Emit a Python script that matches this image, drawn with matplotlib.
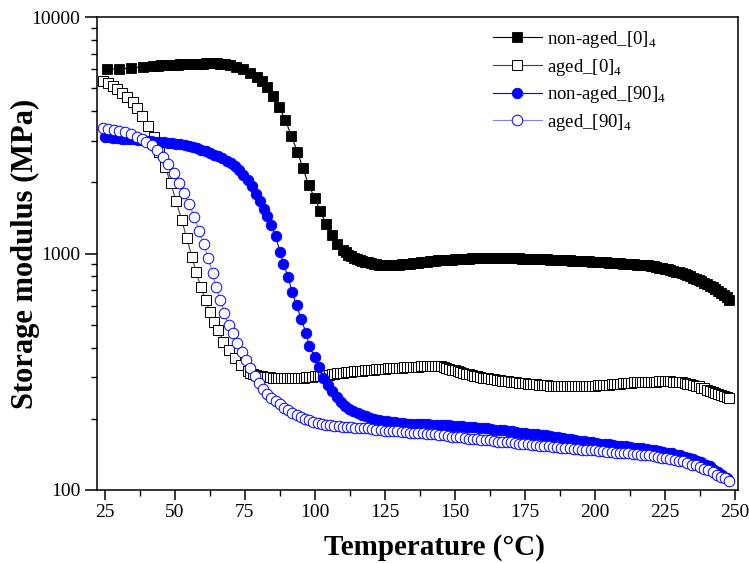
import matplotlib
matplotlib.use("Agg")
import matplotlib.pyplot as plt
from matplotlib.ticker import MultipleLocator, LogLocator, FixedLocator, NullFormatter

plt.rcParams['font.family'] = 'Liberation Serif'
plt.rcParams['mathtext.fontset'] = 'custom'
plt.rcParams['mathtext.rm'] = 'Liberation Serif'

# (temperature degC, storage modulus MPa)

# non-aged_[0]4 : filled black squares
na0_pts = [
    (25.7, 6010), (30.2, 6040), (34.4, 6090), (38.6, 6160), (42.3, 6210),
    (44, 6225), (45, 6240), (46, 6250), (47, 6260), (48, 6270), (49, 6280), (50, 6285), (51, 6290),
    (52, 6300), (53, 6310), (54, 6315), (55, 6320), (56, 6325), (57, 6330), (58, 6340), (59, 6350),
    (60, 6355), (61, 6360), (62, 6370), (63, 6380), (64, 6380), (65, 6370), (66, 6350), (67, 6330),
    (68, 6300),
    (69.6, 6270), (72.0, 6170), (74.5, 6010), (76.9, 5815), (79.3, 5595), (81.0, 5380), (83.0, 5075),
    (85.2, 4630), (87.4, 4150), (89.5, 3670), (91.6, 3150), (93.8, 2690), (95.8, 2290), (97.8, 1950),
    (100.0, 1715), (102.0, 1510), (104.0, 1335), (106.0, 1200), (108.0, 1100), (110.0, 1035),
    (111, 1010), (112, 990), (113, 975), (114, 960), (115, 950), (116, 940), (117, 932), (118, 925),
    (119, 918), (120, 910), (121, 905), (122, 901), (123, 897), (124, 895), (125, 893), (126, 893),
    (127, 893), (128, 894), (129, 895), (130, 897), (131, 899), (132, 901), (133, 903), (134, 906),
    (135, 909), (136, 912), (137, 915), (138, 918), (139, 921), (140, 924), (141, 927), (142, 930),
    (143, 933), (144, 935), (145, 937), (146, 938), (147, 939), (148, 941), (149, 943), (150, 945),
    (151, 946), (152, 948), (153, 949), (154, 951), (155, 952), (156, 953), (157, 954), (158, 955),
    (159, 955), (160, 955), (161, 955), (162, 956), (163, 956), (164, 956), (165, 956), (166, 956),
    (167, 956), (168, 956), (169, 955), (170, 955), (171, 955), (172, 954), (173, 953), (174, 952),
    (175, 951), (176, 951), (177, 950), (178, 949), (179, 948), (180, 947), (181, 946), (182, 946),
    (183, 945), (184, 943), (185, 942), (186, 941), (187, 940), (188, 938), (189, 937), (190, 936),
    (191, 935), (192, 934), (193, 933), (194, 932), (195, 931), (196, 930), (197, 928), (198, 926),
    (199, 925), (200, 923), (201, 922), (202, 920), (203, 919), (204, 917), (205, 916), (206, 914),
    (207, 913), (208, 911), (209, 909), (210, 907), (211, 905), (212, 903), (213, 901), (214, 900),
    (215, 898), (216, 897), (217, 895), (218, 893), (219, 890), (220, 886), (221, 882), (222, 877),
    (223, 872), (224, 867), (225, 862), (226, 857), (227, 851), (228, 845), (229, 838), (230, 832),
    (231, 825), (232, 817), (233, 809), (234, 800), (235, 791), (236, 782), (237, 772), (238, 762),
    (239, 752), (240, 742), (241, 731), (242, 719), (243, 706), (244, 693), (245, 680), (246, 666),
    (247, 652), (248, 635),
]

# aged_[0]4 : open black squares
a0_pts = [
    (24.5, 5360), (26.3, 5240), (27.9, 5110), (29.5, 4940), (31.3, 4785), (33.1, 4600), (35.0, 4380),
    (36.6, 4110), (38.4, 3810), (40.6, 3460), (42.6, 3100), (44.5, 2690), (46.5, 2330), (48.6, 1980),
    (50.5, 1660), (52.5, 1385), (54.3, 1160), (56.1, 970), (57.6, 838), (59.3, 724), (61.0, 636),
    (62.5, 567), (64.0, 515), (65.5, 475), (67.4, 424), (69.2, 391), (71.5, 361), (73.7, 338),
    (76, 318), (77, 312), (78, 308), (79, 305), (80, 303), (81, 302), (82, 301), (83, 300),
    (84, 300), (85, 299), (86, 299), (87, 298), (88, 298), (89, 298), (90, 298), (91, 298),
    (92, 298), (93, 298), (94, 298), (95, 299), (96, 299), (97, 300), (98, 300), (99, 301),
    (100, 302), (101, 303), (102, 304), (103, 305), (104, 306), (105, 307), (106, 308), (107, 310),
    (108, 311), (109, 312), (110, 313), (111, 314), (112, 315), (113, 316), (114, 317), (115, 318),
    (116, 319), (117, 320), (118, 321), (119, 321), (120, 322), (121, 323), (122, 324), (123, 325),
    (124, 326), (125, 326), (126, 327), (127, 327), (128, 328), (129, 328), (130, 329), (131, 329),
    (132, 330), (133, 330), (134, 331), (135, 331), (136, 332), (137, 332), (138, 333), (139, 333),
    (140, 334), (141, 334), (142, 335), (143, 335), (144, 335), (145, 334), (146, 332), (147, 329),
    (148, 326), (149, 323), (150, 321), (151, 318), (152, 315), (153, 312), (154, 310), (155, 308),
    (156, 306), (157, 304), (158, 302), (159, 300), (160, 299), (161, 298), (162, 297), (163, 295),
    (164, 294), (165, 292), (166, 291), (167, 290), (168, 289), (169, 288), (170, 287), (171, 286),
    (172, 285), (173, 284), (174, 283), (175, 283), (176, 282), (177, 281), (178, 281), (179, 280),
    (180, 279), (181, 278), (182, 277), (183, 277), (184, 276), (185, 276), (186, 275), (187, 275),
    (188, 275), (189, 275), (190, 275), (191, 275), (192, 275), (193, 275), (194, 275), (195, 275),
    (196, 275), (197, 275), (198, 275), (199, 276), (200, 276), (201, 277), (202, 277), (203, 278),
    (204, 279), (205, 279), (206, 280), (207, 281), (208, 282), (209, 282), (210, 283), (211, 283),
    (212, 284), (213, 284), (214, 285), (215, 285), (216, 286), (217, 286), (218, 287), (219, 287),
    (220, 287), (221, 287), (222, 287), (223, 288), (224, 288), (225, 288), (226, 288), (227, 288),
    (228, 287), (229, 287), (230, 286), (231, 285), (232, 284), (233, 282), (234, 280), (235, 278),
    (236, 276), (237, 274), (238, 271), (239, 269), (240, 266), (241, 263), (242, 260), (243, 258),
    (244, 255), (245, 253), (246, 250), (247, 248), (248, 245),
]

# non-aged_[90]4 : filled blue circles
na90_pts = [
    (25, 3120), (26.5, 3095), (28, 3080), (29.5, 3068), (31, 3060), (32.5, 3053), (34, 3045),
    (35.5, 3037), (37, 3025), (38.5, 3014), (40, 3003), (41.5, 2990), (43, 2975), (44.5, 2964),
    (46, 2953), (47.5, 2942), (49, 2930), (50.5, 2911), (52, 2890), (53.5, 2867), (55, 2840),
    (56.5, 2810), (58, 2780), (59.5, 2745), (61, 2700), (62.5, 2655), (64, 2615), (65.5, 2575),
    (67, 2530), (68.5, 2470), (70, 2405), (71.5, 2335), (73, 2250), (74.5, 2145), (76, 2050),
    (77.5, 1920), (78.9, 1790), (80.3, 1660), (81.7, 1545), (83.1, 1440), (84.5, 1320), (86.0, 1180),
    (87.6, 1018), (88.8, 903), (90.5, 798), (91.8, 689), (93.5, 605), (95.1, 527), (96.9, 463),
    (98.0, 406), (100.1, 364), (101.5, 330), (103.0, 297), (104.8, 278), (106.3, 262), (107.8, 248),
    (109.3, 236), (110.8, 227), (112.3, 221), (113.8, 216), (115.3, 212), (116.8, 208), (118.3, 205),
    (119.8, 202), (121.3, 200), (122.8, 198), (124.3, 196), (125.8, 195), (127.3, 194), (128.8, 193),
    (130, 192), (131.5, 192), (133, 191), (134.5, 191), (136, 191), (137.5, 190), (139, 190),
    (140.5, 190), (142, 189), (143.5, 189), (145, 188), (146.5, 188), (148, 188), (149.5, 187),
    (151, 187), (152.5, 186), (154, 185), (155.5, 185), (157, 184), (158.5, 183), (160, 183),
    (161.5, 182), (163, 181), (164.5, 180), (166, 179), (167.5, 179), (169, 178), (170.5, 177),
    (172, 176), (173.5, 175), (175, 174), (176.5, 173), (178, 172), (179.5, 172), (181, 171),
    (182.5, 170), (184, 169), (185.5, 168), (187, 167), (188.5, 166), (190, 165), (191.5, 164),
    (193, 162), (194.5, 161), (196, 161), (197.5, 160), (199, 159), (200.5, 158), (202, 157),
    (203.5, 157), (205, 156), (206.5, 155), (208, 154), (209.5, 154), (211, 153), (212.5, 152),
    (214, 151), (215.5, 151), (217, 150), (218.5, 149), (220, 148), (221.5, 147), (223, 146),
    (224.5, 145), (226, 144), (227.5, 143), (229, 141), (230.5, 140), (232, 138), (233.5, 137),
    (235, 135), (236.5, 133), (238, 131), (239.5, 128), (241, 126), (242.5, 122), (244, 119),
    (245.5, 116), (247, 112),
]

# aged_[90]4 : open blue circles
a90_pts = [
    (24.5, 3385), (26.2, 3360), (28.2, 3330), (30.2, 3300), (32.2, 3260), (34.3, 3200), (36.4, 3120),
    (38.2, 3040), (39.7, 2970), (41.8, 2880), (43.6, 2740), (45.7, 2570), (47.7, 2390), (49.7, 2195),
    (51.6, 1990), (53.4, 1805), (55.2, 1620), (57.0, 1420), (58.7, 1250), (60.3, 1096), (62.0, 955),
    (63.5, 825), (64.7, 724), (66.3, 636), (67.7, 558), (69.2, 499), (70.7, 460), (72.3, 417),
    (74, 385), (75.5, 354), (77, 327), (78.5, 303), (80, 283), (81.5, 267), (83, 255), (84.5, 245),
    (86, 237), (87.5, 230), (89, 223), (90.5, 217), (92, 212), (93.5, 207), (95, 203), (96.5, 200),
    (98, 197), (99.5, 194), (101, 192), (102.5, 190), (104, 189), (105.5, 188), (107, 187),
    (108.5, 186), (110, 185), (111.5, 184), (113, 184), (114.5, 183), (116, 183), (117.5, 182),
    (119, 182), (120.5, 181), (122, 180), (123.5, 179), (125, 178), (126.5, 178), (128, 177),
    (129.5, 177), (131, 176), (132.5, 176), (134, 175), (135.5, 175), (137, 174), (138.5, 174),
    (140, 173), (141.5, 172), (143, 172), (144.5, 171), (146, 170), (147.5, 169), (149, 168),
    (150.5, 167), (152, 167), (153.5, 166), (155, 165), (156.5, 164), (158, 164), (159.5, 163),
    (161, 162), (162.5, 162), (164, 161), (165.5, 160), (167, 160), (168.5, 159), (170, 159),
    (171.5, 158), (173, 157), (174.5, 157), (176, 156), (177.5, 155), (179, 155), (180.5, 154),
    (182, 153), (183.5, 153), (185, 152), (186.5, 152), (188, 151), (189.5, 151), (191, 150),
    (192.5, 149), (194, 149), (195.5, 148), (197, 148), (198.5, 147), (200, 147), (201.5, 146),
    (203, 146), (204.5, 145), (206, 145), (207.5, 144), (209, 144), (210.5, 143), (212, 143),
    (213.5, 142), (215, 142), (216.5, 141), (218, 140), (219.5, 140), (221, 139), (222.5, 138),
    (224, 137), (225.5, 136), (227, 135), (228.5, 134), (230, 133), (231.5, 132), (233, 130),
    (234.5, 128), (236, 127), (237.5, 125), (239, 123), (240.5, 121), (242, 119), (243.5, 116),
    (245, 114), (246.5, 112), (248, 109),
]

x_ticks = [25, 50, 75, 100, 125, 150, 175, 200, 225, 250]
y_ticks = [100, 1000, 10000]

fig = plt.figure(figsize=(7.49, 5.63), dpi=100)
ax = fig.add_axes([97 / 749, 1 - 490 / 563, 641 / 749, 473 / 563])

t, e = zip(*na0_pts)
ax.plot(t, e, color='black', lw=0.8, marker='s', ms=7.2, mfc='black', mec='black', mew=0.6,
        label='non-aged_[0]$_{\\mathregular{4}}$')
t, e = zip(*a0_pts)
ax.plot(t, e, color='#444444', lw=0.8, marker='s', ms=7.2, mfc='white', mec='black', mew=0.7,
        label='aged_[0]$_{\\mathregular{4}}$')
t, e = zip(*na90_pts)
ax.plot(t, e, color='#0000ff', lw=0.8, marker='o', ms=7.6, mfc='#0000ff', mec='#0000ff', mew=0.6,
        label='non-aged_[90]$_{\\mathregular{4}}$')
t, e = zip(*a90_pts)
ax.plot(t, e, color='#8080ff', lw=0.8, marker='o', ms=7.6, mfc='white', mec='#0000ff', mew=0.7,
        label='aged_[90]$_{\\mathregular{4}}$')

ax.set_yscale('log')
ax.set_xlim(22.25, 251.1)
ax.set_ylim(100, 10000)

ax.xaxis.set_major_locator(FixedLocator(x_ticks))
ax.xaxis.set_minor_locator(MultipleLocator(12.5))
ax.yaxis.set_major_locator(FixedLocator(y_ticks))
ax.yaxis.set_minor_locator(LogLocator(base=10, subs=[2, 3, 4, 5, 6, 7, 8, 9]))
ax.yaxis.set_minor_formatter(NullFormatter())
ax.set_yticklabels([str(v) for v in y_ticks])
ax.set_xticklabels([str(v) for v in x_ticks])

ax.tick_params(which='major', direction='out', length=7, width=1.1, labelsize=14, pad=3)
ax.tick_params(which='minor', direction='out', length=4, width=1.0)
ax.tick_params(axis='y', which='major', length=9)
for s in ax.spines.values():
    s.set_linewidth(1.1)

ax.set_xlabel('Temperature (\u00b0C)', fontsize=21, fontweight='bold')
ax.set_ylabel('Storage modulus (MPa)', fontsize=22, fontweight='bold')
# label placement in axes fraction (x label a bit right of centre, as in the picture)
ax.xaxis.set_label_coords(0.527, -0.094)
ax.yaxis.set_label_coords(-0.089, 0.5)

leg = ax.legend(loc='upper left', bbox_to_anchor=(493 / 749, 1 - 29 / 563), bbox_transform=fig.transFigure,
                frameon=False, fontsize=13.5, numpoints=1, handlelength=2.6, handletextpad=0.3,
                labelspacing=0.35, borderpad=0, borderaxespad=0)

fig.savefig('out.png', dpi=100)
